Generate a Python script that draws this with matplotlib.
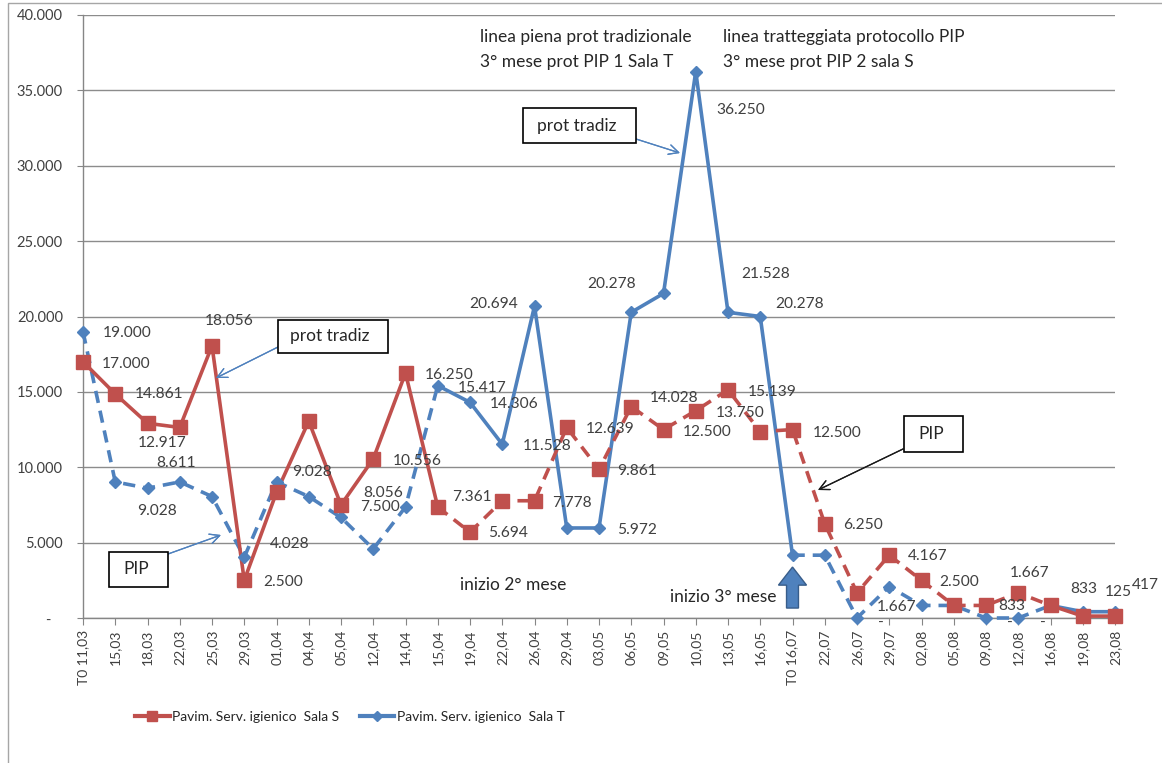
import matplotlib.pyplot as plt
from matplotlib.lines import Line2D
from matplotlib.patches import FancyArrow, Rectangle

plt.rcParams["font.family"] = ["Lato", "DejaVu Sans"]

W, H, DPI = 1162, 763, 100

DATES = [
    "T0 11,03", "15,03", "18,03", "22,03", "25,03", "29,03", "01,04", "04,04",
    "05,04", "12,04", "14,04", "15,04", "19,04", "22,04", "26,04", "29,04",
    "03,05", "06,05", "09,05", "10,05", "13,05", "16,05", "T0 16,07", "22,07",
    "26,07", "29,07", "02,08", "05,08", "09,08", "12,08", "16,08", "19,08", "23,08",
]

SALA_S = [
    17000, 14861, 12917, 12639, 18056, 2500, 8333, 13056,
    7500, 10556, 16250, 7361, 5694, 7778, 7778, 12639,
    9861, 14028, 12500, 13750, 15139, 12361, 12500, 6250,
    1667, 4167, 2500, 833, 833, 1667, 833, 125, 125,
]

SALA_T = [
    19000, 9028, 8611, 9028, 8056, 4028, 9028, 8056,
    6667, 4583, 7361, 15417, 14306, 11528, 20694, 5972,
    5972, 20278, 21528, 36250, 20278, 20000, 4167, 4167,
    0, 2083, 833, 833, 0, 0, 833, 417, 417,
]

LABEL_S = "Pavim. Serv. igienico  Sala S"
LABEL_T = "Pavim. Serv. igienico  Sala T"

# tratti di linea: (primo punto, ultimo punto, stile)
S_SEGMENTS = [(0, 11, "solid"), (11, 30, "dashed"), (30, 32, "solid")]
T_SEGMENTS = [(0, 11, "dashed"), (11, 22, "solid"), (22, 30, "dashed"), (30, 32, "solid")]

# etichette dati: (indice, dx px, dy px)
S_LABELS = [
    (0, 19, -2), (1, 20, 0), (2, -10, -20), (4, -7, 25), (5, 19, -2),
    (8, 19, -2), (9, 20, -2), (10, 19, -2), (11, 14, 10), (12, 18, -1),
    (14, 18, -2), (15, 19, -2), (16, 18, -2), (17, 19, 9), (18, 19, -2),
    (19, 20, -2), (20, 20, -2), (22, 20, -3), (23, 18, -1), (24, 20, -14),
    (25, 19, -1), (26, 18, -2), (28, 12, -1), (29, -8, 20), (31, 22, 24),
]
T_LABELS = [
    (0, 20, -1), (1, 22, -29), (2, 9, 25), (5, 26, 13), (6, 16, 10),
    (7, 55, 4), (11, 20, -2), (12, 20, -2), (13, 21, -2), (14, -65, 2),
    (16, 18, -2), (17, -44, 28), (18, 78, 19), (19, 21, -38), (20, 47, 8),
    (24, 21, -5), (28, 21, -5), (29, 22, -5), (30, 20, 16), (32, 17, 27),
]

RED = "#C0504D"
BLUE = "#4F81BD"
TEXT = "#404040"
NOTE = "#262626"
DASH = (0, (3.4, 2.2))


def fmt(value):
    """Formato contabile italiano: punto per le migliaia, trattino per lo zero."""
    if value == 0:
        return "-"
    return f"{value:,.0f}".replace(",", ".")


def fpx(x, y):
    """Pixel dall'alto a sinistra -> frazione di figura."""
    return x / W, 1 - y / H


def draw_series(ax, values, segments, color, marker, ms):
    x = list(range(len(values)))
    for start, end, style in segments:
        ax.plot(
            x[start:end + 1],
            values[start:end + 1],
            color=color,
            lw=2.6,
            linestyle=DASH if style == "dashed" else "-",
            clip_on=False,
            zorder=3,
        )
    ax.plot(x, values, linestyle="none", marker=marker, ms=ms,
            color=color, mec=color, clip_on=False, zorder=4)


def draw_labels(ax, values, labels):
    for idx, dx, dy in labels:
        ax.annotate(
            fmt(values[idx]),
            xy=(idx, values[idx]),
            xytext=(dx, dy),
            textcoords="offset pixels",
            ha="left",
            va="center",
            fontsize=11.2,
            color=TEXT,
            annotation_clip=False,
            zorder=5,
        )


def note(fig, x, y, text):
    fig.text(*fpx(x, y), text, ha="left", va="center", fontsize=12.5,
             color=NOTE, zorder=7)


def text_box(fig, x0, y0, x1, y1, text, tx):
    left, bottom = fpx(x0, y1)
    right, top = fpx(x1, y0)
    fig.add_artist(Rectangle((left, bottom), right - left, top - bottom,
                             transform=fig.transFigure, facecolor="white",
                             edgecolor="black", lw=1.2, zorder=6))
    note(fig, tx, (y0 + y1) / 2, text)


def arrow(fig, start, tip, color):
    fig.add_artist(plt.annotate(
        "", xy=fpx(*tip), xytext=fpx(*start),
        xycoords="figure fraction", textcoords="figure fraction",
        arrowprops=dict(arrowstyle="->,head_length=0.7,head_width=0.35",
                        color=color, lw=0.9, shrinkA=0, shrinkB=0),
    ))


fig = plt.figure(figsize=(W / DPI, H / DPI), dpi=DPI)
ax = fig.add_axes([83 / W, 1 - 618 / H, (1115 - 83) / W, (618 - 15) / H])

draw_series(ax, SALA_T, T_SEGMENTS, BLUE, "D", 6)
draw_series(ax, SALA_S, S_SEGMENTS, RED, "s", 9.5)
draw_labels(ax, SALA_T, T_LABELS)
draw_labels(ax, SALA_S, S_LABELS)

ax.set_xlim(0, len(DATES) - 1)
ax.set_ylim(0, 40000)
ax.set_xticks(range(len(DATES)))
ax.set_xticklabels(DATES, rotation=90, fontsize=10, color=TEXT)
yticks = list(range(0, 40001, 5000))
ax.set_yticks(yticks)
ax.set_yticklabels([fmt(v) if v else "-   " for v in yticks], fontsize=10.5, color=TEXT)
ax.tick_params(axis="y", direction="out", length=4, color="#868686", pad=10.5)
ax.tick_params(axis="x", direction="out", length=5, color="#868686", pad=3.5)
ax.yaxis.grid(True, color="#8C8C8C", lw=1.0)
ax.set_axisbelow(True)
for side in ("top", "right"):
    ax.spines[side].set_visible(False)
for side in ("left", "bottom"):
    ax.spines[side].set_color("#868686")
    ax.spines[side].set_linewidth(1.0)

# freccia blu "inizio 3° mese"
t0 = DATES.index("T0 16,07")
ax.add_patch(FancyArrow(t0, 660, 0, 2720, width=0.37, head_width=0.87,
                        head_length=1200, length_includes_head=True,
                        facecolor=BLUE, edgecolor="#385D8A", lw=1.0,
                        clip_on=False, zorder=5))

# testi e riquadri
note(fig, 480, 37, "linea piena prot tradizionale")
note(fig, 480, 62, "3° mese prot PIP 1 Sala T")
note(fig, 723, 37, "linea tratteggiata protocollo PIP")
note(fig, 723, 62, "3° mese prot PIP 2 sala S")
note(fig, 460, 585, "inizio 2° mese")
note(fig, 670, 597, "inizio 3° mese")

text_box(fig, 278, 320, 388, 353, "prot tradiz", 290)
text_box(fig, 523, 108, 636, 143, "prot tradiz", 537)
text_box(fig, 109, 552, 168, 587, "PIP", 123)
text_box(fig, 904, 416, 963, 452, "PIP", 918)

arrow(fig, (278, 347), (216, 378), BLUE)
arrow(fig, (168, 554), (221, 535), BLUE)
arrow(fig, (636, 139), (680, 153), BLUE)
arrow(fig, (903, 449), (818, 490), "#1A1A1A")

# bordo del grafico
fig.add_artist(Rectangle((8 / W, -0.05), 1.2, 1 - 3 / H + 0.05,
                         transform=fig.transFigure, fill=False,
                         edgecolor="#A6A6A6", lw=1.0))

handles = [
    Line2D([], [], color=RED, lw=3, marker="s", ms=7),
    Line2D([], [], color=BLUE, lw=3, marker="D", ms=5),
]
fig.legend(handles, [LABEL_S, LABEL_T], loc="center left",
           bbox_to_anchor=fpx(135, 717), ncol=2, frameon=False, fontsize=10,
           handlelength=2.5, handletextpad=0.15, columnspacing=1.5,
           borderpad=0, borderaxespad=0, labelcolor=NOTE)

fig.savefig("out.png", dpi=DPI)
